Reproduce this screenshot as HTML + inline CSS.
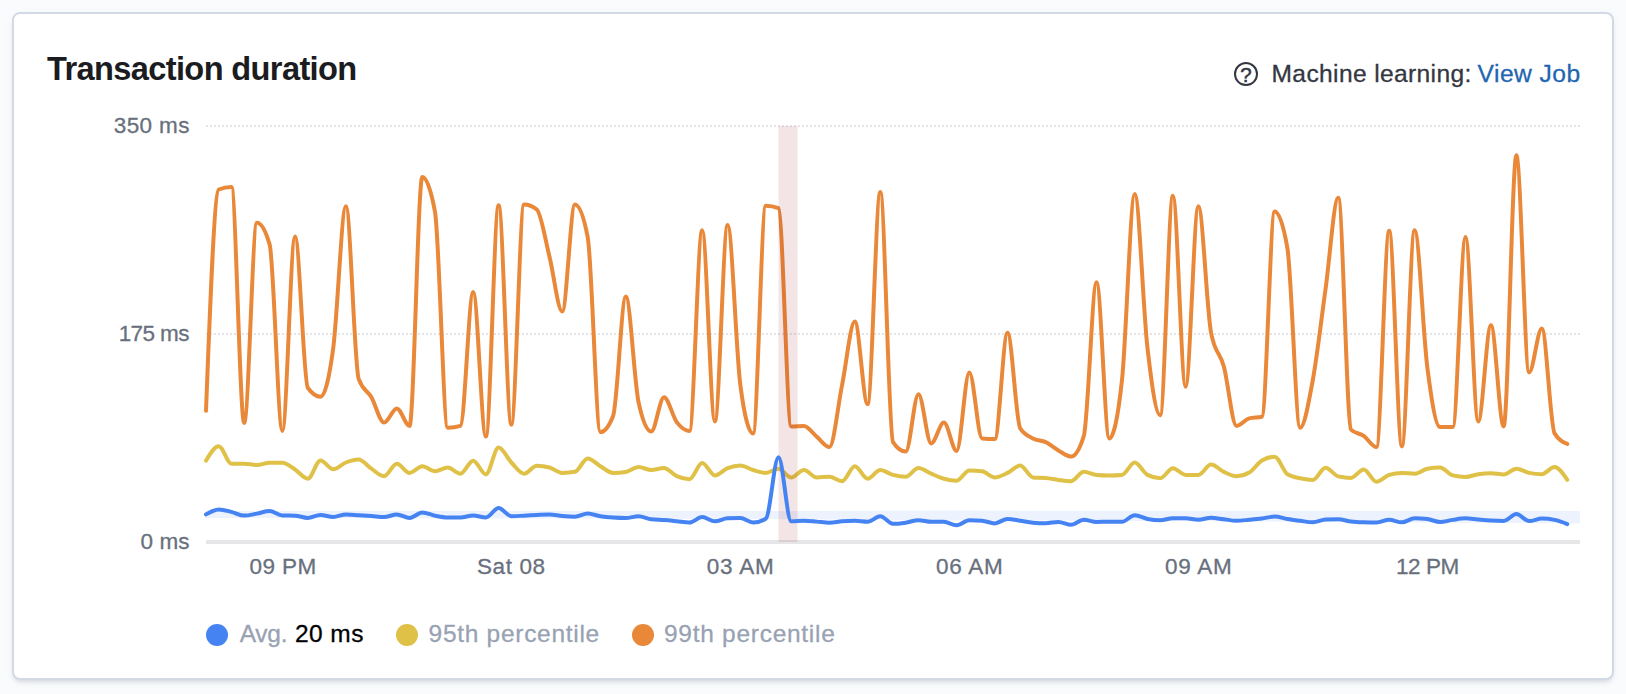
<!DOCTYPE html>
<html><head><meta charset="utf-8"><title>Transaction duration</title>
<style>
html,body{margin:0;padding:0;}
body{width:1626px;height:694px;background:#fafbfd;overflow:hidden;position:relative;font-family:"Liberation Sans",sans-serif;}
.panel{position:absolute;left:12px;top:12px;width:1598px;height:664px;background:#fff;border:2px solid #d3dae6;border-radius:8px;
 box-shadow:0 4px 4px -2px rgba(152,162,179,.3),0 2px 10px -4px rgba(152,162,179,.3);}
svg{position:absolute;left:0;top:0;}
svg text{font-family:"Liberation Sans",sans-serif;white-space:pre;}
</style></head><body>
<div class="panel"></div>
<svg width="1626" height="694" viewBox="0 0 1626 694">
 <circle cx="1246" cy="74.1" r="11" fill="none" stroke="#343741" stroke-width="2"/>
 <text x="1246" y="81.6" text-anchor="middle" font-size="20.5" font-weight="400" fill="#343741" stroke="#343741" stroke-width="0.5">?</text>
 <g stroke="#e2e4e8" stroke-width="2" stroke-dasharray="2 2">
  <line x1="206" y1="126" x2="1580" y2="126"/>
  <line x1="206" y1="334" x2="1580" y2="334"/>
 </g>
 <line x1="206" y1="542" x2="1580" y2="542" stroke="#e6e6e9" stroke-width="4"/>
 <text x="47.00" y="79.9" font-size="32.6" font-weight="700" fill="#1a1c21" style="letter-spacing:-0.632px">Transaction duration</text>
 <text x="1271.50" y="81.8" font-size="24.6" font-weight="400" fill="#343741" stroke="#343741" stroke-width="0.3" style="letter-spacing:0.356px">Machine learning:</text>
 <text x="1477.60" y="81.8" font-size="24.6" font-weight="400" fill="#1f66b0" stroke="#1f66b0" stroke-width="0.3" style="letter-spacing:0.461px">View Job</text>
 <text x="113.80" y="133.0" font-size="22.5" font-weight="400" fill="#69707d" stroke="#69707d" stroke-width="0.3" style="letter-spacing:0.373px">350 ms</text>
 <text x="118.70" y="340.8" font-size="22.5" font-weight="400" fill="#69707d" stroke="#69707d" stroke-width="0.3" style="letter-spacing:-0.607px">175 ms</text>
 <text x="140.60" y="549.3" font-size="22.5" font-weight="400" fill="#69707d" stroke="#69707d" stroke-width="0.3" style="letter-spacing:0.031px">0 ms</text>
 <text x="249.60" y="573.8" font-size="22.5" font-weight="400" fill="#69707d" stroke="#69707d" stroke-width="0.3" style="letter-spacing:0.404px">09 PM</text>
 <text x="477.00" y="573.8" font-size="22.5" font-weight="400" fill="#69707d" stroke="#69707d" stroke-width="0.3" style="letter-spacing:0.593px">Sat 08</text>
 <text x="706.80" y="573.8" font-size="22.5" font-weight="400" fill="#69707d" stroke="#69707d" stroke-width="0.3" style="letter-spacing:0.779px">03 AM</text>
 <text x="936.00" y="573.8" font-size="22.5" font-weight="400" fill="#69707d" stroke="#69707d" stroke-width="0.3" style="letter-spacing:0.754px">06 AM</text>
 <text x="1165.00" y="573.8" font-size="22.5" font-weight="400" fill="#69707d" stroke="#69707d" stroke-width="0.3" style="letter-spacing:0.754px">09 AM</text>
 <text x="1396.00" y="573.8" font-size="22.5" font-weight="400" fill="#69707d" stroke="#69707d" stroke-width="0.3" style="letter-spacing:-0.446px">12 PM</text>
 <text x="239.70" y="642.2" font-size="24.5" font-weight="400" fill="#98a2b3" stroke="#98a2b3" stroke-width="0.3" style="letter-spacing:-0.258px">Avg.</text>
 <text x="295.00" y="642.2" font-size="24.5" font-weight="400" fill="#000" stroke="#000" stroke-width="0.3" style="letter-spacing:0.433px">20 ms</text>
 <text x="428.60" y="642.2" font-size="24.5" font-weight="400" fill="#98a2b3" stroke="#98a2b3" stroke-width="0.3" style="letter-spacing:0.707px">95th percentile</text>
 <text x="664.00" y="642.2" font-size="24.5" font-weight="400" fill="#98a2b3" stroke="#98a2b3" stroke-width="0.3" style="letter-spacing:0.722px">99th percentile</text>
 <path d="M205.2,511.0L575.0,511.0L800.0,511.0L955.0,510.6L1220.0,510.8L1400.0,511.0L1580.0,511.0L1580.0,523.2L1400.0,522.6L1220.0,521.2L955.0,520.4L800.0,519.2L575.0,518.6L205.2,518.0Z" fill="#4583f3" fill-opacity="0.1"/>
 <g fill="none" stroke-width="4" stroke-linejoin="round" stroke-linecap="round">
  <path stroke="#e98838" d="M206.00,410.80C210.24,300.98,214.48,191.17,218.72,189.50C222.96,187.83,227.20,187.00,231.44,187.00C235.69,187.00,239.93,422.90,244.17,422.90C248.41,422.90,252.65,222.70,256.89,222.70C261.13,222.70,265.37,229.93,269.61,244.40C273.85,258.87,278.09,430.90,282.33,430.90C286.57,430.90,290.81,236.40,295.06,236.40C299.30,236.40,303.54,381.82,307.78,387.78C312.02,393.74,316.26,396.72,320.50,396.72C324.74,396.72,328.98,379.90,333.22,348.15C337.46,316.39,341.70,206.20,345.94,206.20C350.19,206.20,354.43,366.76,358.67,378.94C362.91,391.12,367.15,389.94,371.39,397.22C375.63,404.49,379.87,422.60,384.11,422.60C388.35,422.60,392.59,408.40,396.83,408.40C401.07,408.40,405.31,425.90,409.56,425.90C413.80,425.90,418.04,177.00,422.28,177.00C426.52,177.00,430.76,188.60,435.00,211.80C439.24,235.00,443.48,427.70,447.72,427.70C451.96,427.70,456.20,427.10,460.44,425.90C464.69,424.70,468.93,292.12,473.17,292.12C477.41,292.12,481.65,436.60,485.89,436.60C490.13,436.60,494.37,205.20,498.61,205.20C502.85,205.20,507.09,424.60,511.33,424.60C515.57,424.60,519.81,204.50,524.06,204.50C528.30,204.50,532.54,206.17,536.78,209.50C541.02,212.83,545.26,239.78,549.50,256.76C553.74,273.74,557.98,311.39,562.22,311.39C566.46,311.39,570.70,204.50,574.94,204.50C579.19,204.50,583.43,215.30,587.67,236.90C591.91,258.50,596.15,432.10,600.39,432.10C604.63,432.10,608.87,426.70,613.11,415.90C617.35,405.10,621.59,296.59,625.83,296.59C630.07,296.59,634.31,382.73,638.56,402.20C642.80,421.67,647.04,431.40,651.28,431.40C655.52,431.40,659.76,397.22,664.00,397.22C668.24,397.22,672.48,416.49,676.72,422.10C680.96,427.71,685.20,430.90,689.44,430.90C693.69,430.90,697.93,230.20,702.17,230.20C706.41,230.20,710.65,421.40,714.89,421.40C719.13,421.40,723.37,224.90,727.61,224.90C731.85,224.90,736.09,352.57,740.33,384.90C744.57,417.23,748.81,433.40,753.06,433.40C757.30,433.40,761.54,205.70,765.78,205.70C770.02,205.70,774.26,206.53,778.50,208.20C782.74,209.87,786.98,426.40,791.22,426.40C795.46,426.40,799.70,425.90,803.94,425.90C808.19,425.90,812.43,433.07,816.67,436.60C820.91,440.13,825.15,447.10,829.39,447.10C833.63,447.10,837.87,405.83,842.11,384.90C846.35,363.97,850.59,321.53,854.83,321.53C859.07,321.53,863.31,404.20,867.56,404.20C871.80,404.20,876.04,192.00,880.28,192.00C884.52,192.00,888.76,435.77,893.00,442.10C897.24,448.43,901.48,451.60,905.72,451.60C909.96,451.60,914.20,394.24,918.44,394.24C922.69,394.24,926.93,443.40,931.17,443.40C935.41,443.40,939.65,422.60,943.89,422.60C948.13,422.60,952.37,450.90,956.61,450.90C960.85,450.90,965.09,372.38,969.33,372.38C973.57,372.38,977.81,437.93,982.06,438.40C986.30,438.87,990.54,439.10,994.78,439.10C999.02,439.10,1003.26,332.75,1007.50,332.75C1011.74,332.75,1015.98,421.73,1020.22,428.40C1024.46,435.07,1028.70,436.12,1032.94,438.40C1037.19,440.68,1041.43,440.10,1045.67,442.10C1049.91,444.10,1054.15,447.98,1058.39,450.40C1062.63,452.82,1066.87,456.60,1071.11,456.60C1075.35,456.60,1079.59,449.70,1083.83,435.90C1088.07,422.10,1092.31,282.19,1096.56,282.19C1100.80,282.19,1105.04,438.40,1109.28,438.40C1113.52,438.40,1117.76,418.91,1122.00,379.93C1126.24,340.96,1130.48,194.00,1134.72,194.00C1138.96,194.00,1143.20,310.68,1147.44,347.55C1151.69,384.42,1155.93,415.20,1160.17,415.20C1164.41,415.20,1168.65,195.70,1172.89,195.70C1177.13,195.70,1181.37,386.79,1185.61,386.79C1189.85,386.79,1194.09,206.20,1198.33,206.20C1202.57,206.20,1206.81,310.43,1211.06,332.75C1215.30,355.07,1219.54,350.70,1223.78,366.23C1228.02,381.75,1232.26,425.90,1236.50,425.90C1240.74,425.90,1244.98,419.53,1249.22,418.40C1253.46,417.27,1257.70,417.83,1261.94,416.70C1266.19,415.57,1270.43,211.50,1274.67,211.50C1278.91,211.50,1283.15,223.73,1287.39,248.20C1291.63,272.67,1295.87,427.80,1300.11,427.80C1304.35,427.80,1308.59,403.06,1312.83,379.93C1317.07,356.81,1321.31,319.42,1325.56,289.04C1329.80,258.67,1334.04,197.70,1338.28,197.70C1342.52,197.70,1346.76,425.40,1351.00,429.60C1355.24,433.80,1359.48,432.98,1363.72,435.90C1367.96,438.82,1372.20,447.10,1376.44,447.10C1380.69,447.10,1384.93,230.70,1389.17,230.70C1393.41,230.70,1397.65,446.40,1401.89,446.40C1406.13,446.40,1410.37,230.20,1414.61,230.20C1418.85,230.20,1423.09,334.60,1427.33,367.42C1431.57,400.23,1435.81,427.10,1440.06,427.10C1444.30,427.10,1448.54,427.10,1452.78,427.10C1457.02,427.10,1461.26,236.90,1465.50,236.90C1469.74,236.90,1473.98,421.40,1478.22,421.40C1482.46,421.40,1486.70,325.30,1490.94,325.30C1495.19,325.30,1499.43,426.40,1503.67,426.40C1507.91,426.40,1512.15,155.30,1516.39,155.30C1520.63,155.30,1524.87,372.38,1529.11,372.38C1533.35,372.38,1537.59,328.48,1541.83,328.48C1546.07,328.48,1550.31,426.40,1554.56,433.40C1558.80,440.40,1563.04,442.15,1567.28,443.90"/>
  <path stroke="#e0c147" d="M206.00,460.70C210.24,453.45,214.48,446.20,218.72,446.20C222.96,446.20,227.20,463.70,231.44,463.70C235.69,463.70,239.93,463.70,244.17,463.70C248.41,463.70,252.65,465.00,256.89,465.00C261.13,465.00,265.37,462.70,269.61,462.70C273.85,462.70,278.09,462.70,282.33,462.70C286.57,462.70,290.81,466.83,295.06,469.50C299.30,472.17,303.54,478.70,307.78,478.70C312.02,478.70,316.26,460.50,320.50,460.50C324.74,460.50,328.98,469.20,333.22,469.20C337.46,469.20,341.70,464.12,345.94,462.50C350.19,460.88,354.43,459.50,358.67,459.50C362.91,459.50,367.15,465.92,371.39,468.70C375.63,471.48,379.87,476.20,384.11,476.20C388.35,476.20,392.59,463.70,396.83,463.70C401.07,463.70,405.31,472.90,409.56,472.90C413.80,472.90,418.04,466.20,422.28,466.20C426.52,466.20,430.76,471.20,435.00,471.20C439.24,471.20,443.48,467.50,447.72,467.50C451.96,467.50,456.20,473.70,460.44,473.70C464.69,473.70,468.93,460.70,473.17,460.70C477.41,460.70,481.65,474.40,485.89,474.40C490.13,474.40,494.37,447.50,498.61,447.50C502.85,447.50,507.09,458.13,511.33,462.50C515.57,466.87,519.81,473.70,524.06,473.70C528.30,473.70,532.54,465.70,536.78,465.70C541.02,465.70,545.26,466.30,549.50,467.50C553.74,468.70,557.98,472.90,562.22,472.90C566.46,472.90,570.70,472.53,574.94,471.80C579.19,471.07,583.43,458.40,587.67,458.40C591.91,458.40,596.15,463.78,600.39,466.20C604.63,468.62,608.87,472.90,613.11,472.90C617.35,472.90,621.59,472.57,625.83,471.90C630.07,471.23,634.31,467.00,638.56,467.00C642.80,467.00,647.04,470.00,651.28,470.00C655.52,470.00,659.76,468.00,664.00,468.00C668.24,468.00,672.48,474.33,676.72,476.20C680.96,478.07,685.20,479.20,689.44,479.20C693.69,479.20,697.93,463.00,702.17,463.00C706.41,463.00,710.65,475.40,714.89,475.40C719.13,475.40,723.37,469.85,727.61,468.20C731.85,466.55,736.09,465.50,740.33,465.50C744.57,465.50,748.81,468.77,753.06,470.00C757.30,471.23,761.54,472.90,765.78,472.90C770.02,472.90,774.26,468.70,778.50,468.70C782.74,468.70,786.98,477.40,791.22,477.40C795.46,477.40,799.70,470.00,803.94,470.00C808.19,470.00,812.43,477.40,816.67,477.40C820.91,477.40,825.15,476.70,829.39,476.70C833.63,476.70,837.87,481.20,842.11,481.20C846.35,481.20,850.59,466.20,854.83,466.20C859.07,466.20,863.31,478.70,867.56,478.70C871.80,478.70,876.04,470.00,880.28,470.00C884.52,470.00,888.76,473.78,893.00,474.90C897.24,476.02,901.48,476.70,905.72,476.70C909.96,476.70,914.20,468.00,918.44,468.00C922.69,468.00,926.93,471.92,931.17,473.70C935.41,475.48,939.65,477.53,943.89,478.70C948.13,479.87,952.37,480.70,956.61,480.70C960.85,480.70,965.09,470.40,969.33,470.40C973.57,470.40,977.81,470.67,982.06,471.20C986.30,471.73,990.54,477.40,994.78,477.40C999.02,477.40,1003.26,474.88,1007.50,472.90C1011.74,470.92,1015.98,465.50,1020.22,465.50C1024.46,465.50,1028.70,477.07,1032.94,477.40C1037.19,477.73,1041.43,477.57,1045.67,477.90C1049.91,478.23,1054.15,479.35,1058.39,479.90C1062.63,480.45,1066.87,481.20,1071.11,481.20C1075.35,481.20,1079.59,471.70,1083.83,471.70C1088.07,471.70,1092.31,474.57,1096.56,474.90C1100.80,475.23,1105.04,475.40,1109.28,475.40C1113.52,475.40,1117.76,475.23,1122.00,474.90C1126.24,474.57,1130.48,462.50,1134.72,462.50C1138.96,462.50,1143.20,472.70,1147.44,474.90C1151.69,477.10,1155.93,478.20,1160.17,478.20C1164.41,478.20,1168.65,468.20,1172.89,468.20C1177.13,468.20,1181.37,474.90,1185.61,474.90C1189.85,474.90,1194.09,474.90,1198.33,474.90C1202.57,474.90,1206.81,464.50,1211.06,464.50C1215.30,464.50,1219.54,469.95,1223.78,471.90C1228.02,473.85,1232.26,476.20,1236.50,476.20C1240.74,476.20,1244.98,475.00,1249.22,472.60C1253.46,470.20,1257.70,463.03,1261.94,460.50C1266.19,457.97,1270.43,456.70,1274.67,456.70C1278.91,456.70,1283.15,471.53,1287.39,474.20C1291.63,476.87,1295.87,477.25,1300.11,478.20C1304.35,479.15,1308.59,479.90,1312.83,479.90C1317.07,479.90,1321.31,467.80,1325.56,467.80C1329.80,467.80,1334.04,475.40,1338.28,476.40C1342.52,477.40,1346.76,477.90,1351.00,477.90C1355.24,477.90,1359.48,469.50,1363.72,469.50C1367.96,469.50,1372.20,481.70,1376.44,481.70C1380.69,481.70,1384.93,476.23,1389.17,474.90C1393.41,473.57,1397.65,472.90,1401.89,472.90C1406.13,472.90,1410.37,473.70,1414.61,473.70C1418.85,473.70,1423.09,469.50,1427.33,468.70C1431.57,467.90,1435.81,467.50,1440.06,467.50C1444.30,467.50,1448.54,474.40,1452.78,475.40C1457.02,476.40,1461.26,476.90,1465.50,476.90C1469.74,476.90,1473.98,474.82,1478.22,474.20C1482.46,473.58,1486.70,473.20,1490.94,473.20C1495.19,473.20,1499.43,474.40,1503.67,474.40C1507.91,474.40,1512.15,468.70,1516.39,468.70C1520.63,468.70,1524.87,472.03,1529.11,472.90C1533.35,473.77,1537.59,474.20,1541.83,474.20C1546.07,474.20,1550.31,467.00,1554.56,467.00C1558.80,467.00,1563.04,473.45,1567.28,479.90"/>
 </g>
 <rect x="778.5" y="126" width="19" height="416" fill="#961e1e" fill-opacity="0.115"/>
 <path fill="none" stroke-width="4" stroke-linejoin="round" stroke-linecap="round" stroke="#4583f3" d="M206.00,514.40C210.24,511.90,214.48,509.40,218.72,509.40C222.96,509.40,227.20,510.87,231.44,511.91C235.69,512.94,239.93,515.61,244.17,515.61C248.41,515.61,252.65,514.37,256.89,513.62C261.13,512.87,265.37,511.12,269.61,511.12C273.85,511.12,278.09,515.29,282.33,515.43C286.57,515.56,290.81,515.50,295.06,515.63C299.30,515.77,303.54,517.94,307.78,517.94C312.02,517.94,316.26,514.94,320.50,514.94C324.74,514.94,328.98,516.95,333.22,516.95C337.46,516.95,341.70,514.45,345.94,514.45C350.19,514.45,354.43,514.90,358.67,515.16C362.91,515.41,367.15,515.66,371.39,515.96C375.63,516.26,379.87,516.97,384.11,516.97C388.35,516.97,392.59,514.47,396.83,514.47C401.07,514.47,405.31,517.97,409.56,517.97C413.80,517.97,418.04,512.48,422.28,512.48C426.52,512.48,430.76,514.85,435.00,515.68C439.24,516.52,443.48,517.49,447.72,517.49C451.96,517.49,456.20,517.49,460.44,517.49C464.69,517.49,468.93,515.50,473.17,515.50C477.41,515.50,481.65,517.50,485.89,517.50C490.13,517.50,494.37,508.01,498.61,508.01C502.85,508.01,507.09,516.21,511.33,516.21C515.57,516.21,519.81,515.92,524.06,515.72C528.30,515.52,532.54,515.22,536.78,515.02C541.02,514.82,545.26,514.53,549.50,514.53C553.74,514.53,557.98,515.68,562.22,516.03C566.46,516.38,570.70,516.64,574.94,516.64C579.19,516.64,583.43,513.54,587.67,513.54C591.91,513.54,596.15,515.58,600.39,516.24C604.63,516.91,608.87,517.25,613.11,517.55C617.35,517.85,621.59,518.05,625.83,518.05C630.07,518.05,634.31,516.26,638.56,516.26C642.80,516.26,647.04,518.73,651.28,519.26C655.52,519.80,659.76,519.73,664.00,520.07C668.24,520.40,672.48,520.85,676.72,521.27C680.96,521.69,685.20,522.58,689.44,522.58C693.69,522.58,697.93,517.08,702.17,517.08C706.41,517.08,710.65,521.29,714.89,521.29C719.13,521.29,723.37,518.42,727.61,518.29C731.85,518.16,736.09,518.10,740.33,518.10C744.57,518.10,748.81,522.60,753.06,522.60C757.30,522.60,761.54,521.34,765.78,518.81C770.02,516.28,774.26,457.21,778.50,457.21C782.74,457.21,786.98,521.31,791.22,521.31C795.46,521.31,799.70,520.82,803.94,520.82C808.19,520.82,812.43,521.32,816.67,521.62C820.91,521.93,825.15,522.63,829.39,522.63C833.63,522.63,837.87,521.63,842.11,521.33C846.35,521.04,850.59,520.84,854.83,520.84C859.07,520.84,863.31,521.84,867.56,521.84C871.80,521.84,876.04,516.35,880.28,516.35C884.52,516.35,888.76,523.85,893.00,523.85C897.24,523.85,901.48,523.27,905.72,522.66C909.96,522.04,914.20,520.16,918.44,520.16C922.69,520.16,926.93,521.86,931.17,521.87C935.41,521.87,939.65,521.87,943.89,521.87C948.13,521.87,952.37,525.18,956.61,525.18C960.85,525.18,965.09,520.18,969.33,520.18C973.57,520.18,977.81,520.35,982.06,520.69C986.30,521.02,990.54,523.39,994.78,523.39C999.02,523.39,1003.26,518.89,1007.50,518.89C1011.74,518.89,1015.98,520.06,1020.22,520.70C1024.46,521.33,1028.70,522.37,1032.94,522.70C1037.19,523.04,1041.43,523.21,1045.67,523.21C1049.91,523.21,1054.15,521.91,1058.39,521.91C1062.63,521.91,1066.87,524.72,1071.11,524.72C1075.35,524.72,1079.59,519.72,1083.83,519.72C1088.07,519.72,1092.31,521.93,1096.56,521.93C1100.80,521.93,1105.04,521.73,1109.28,521.73C1113.52,521.73,1117.76,521.74,1122.00,521.74C1126.24,521.74,1130.48,515.24,1134.72,515.24C1138.96,515.24,1143.20,518.11,1147.44,518.95C1151.69,519.78,1155.93,520.25,1160.17,520.25C1164.41,520.25,1168.65,518.26,1172.89,518.26C1177.13,518.26,1181.37,518.26,1185.61,518.26C1189.85,518.26,1194.09,519.76,1198.33,519.76C1202.57,519.76,1206.81,517.77,1211.06,517.77C1215.30,517.77,1219.54,518.77,1223.78,519.27C1228.02,519.78,1232.26,520.78,1236.50,520.78C1240.74,520.78,1244.98,520.16,1249.22,519.78C1253.46,519.40,1257.70,519.04,1261.94,518.49C1266.19,517.94,1270.43,516.49,1274.67,516.49C1278.91,516.49,1283.15,518.28,1287.39,519.00C1291.63,519.72,1295.87,520.25,1300.11,520.80C1304.35,521.35,1308.59,522.31,1312.83,522.31C1317.07,522.31,1321.31,519.87,1325.56,519.61C1329.80,519.35,1334.04,519.22,1338.28,519.22C1342.52,519.22,1346.76,521.00,1351.00,521.52C1355.24,522.04,1359.48,522.19,1363.72,522.33C1367.96,522.46,1372.20,522.53,1376.44,522.53C1380.69,522.53,1384.93,519.83,1389.17,519.83C1393.41,519.83,1397.65,522.34,1401.89,522.34C1406.13,522.34,1410.37,518.34,1414.61,518.34C1418.85,518.34,1423.09,518.58,1427.33,519.05C1431.57,519.52,1435.81,522.05,1440.06,522.05C1444.30,522.05,1448.54,520.47,1452.78,519.86C1457.02,519.24,1461.26,518.36,1465.50,518.36C1469.74,518.36,1473.98,519.20,1478.22,519.57C1482.46,519.94,1486.70,520.37,1490.94,520.57C1495.19,520.78,1499.43,520.88,1503.67,520.88C1507.91,520.88,1512.15,514.08,1516.39,514.08C1520.63,514.08,1524.87,521.09,1529.11,521.09C1533.35,521.09,1537.59,518.59,1541.83,518.59C1546.07,518.59,1550.31,519.03,1554.56,519.90C1558.80,520.77,1563.04,522.43,1567.28,524.10"/>
 <circle cx="217" cy="635" r="11" fill="#4583f3"/>
 <circle cx="407" cy="635" r="11" fill="#e0c147"/>
 <circle cx="643" cy="635" r="11" fill="#e98838"/>
</svg>
</body></html>
